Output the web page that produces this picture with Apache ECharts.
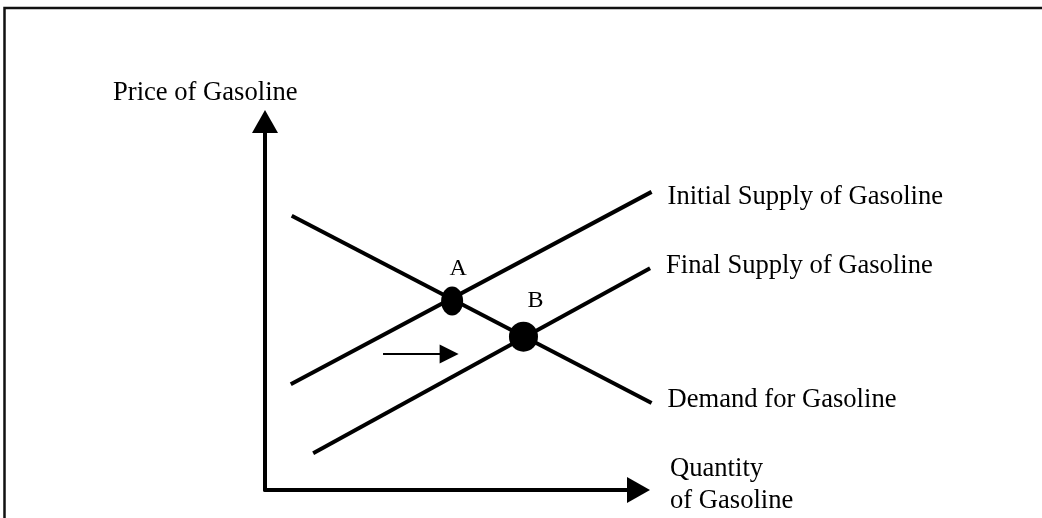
<!DOCTYPE html>
<html>
<head>
<meta charset="utf-8">
<script src="https://cdn.jsdelivr.net/npm/echarts@6/dist/echarts.min.js"></script>
<style>
  html, body { margin: 0; padding: 0; background: #ffffff; }
  #chart { width: 1042px; height: 518px; }
</style>
</head>
<body>
<div id="chart"></div>
<script>
// ---- data (abstract units) ----
const curveNames = ['Initial Supply of Gasoline', 'Final Supply of Gasoline', 'Demand for Gasoline'];
const initialSupply = [[6.9, 28.7], [103.5, 80.9]];
const finalSupply   = [[12.9, 10.0], [103.1, 60.2]];
const demand        = [[7.15, 74.4], [103.5, 23.6]];
const pointNames = ['A', 'B'];
const pointX = [50.1, 69.2];
const pointY = [51.3, 41.6];
const shiftArrow = [[31.6, 36.9], [49.3, 36.9]];
const xAxisTitle = ['Quantity', 'of Gasoline'];
const yAxisTitle = 'Price of Gasoline';

const FONT = '"Liberation Serif", "Times New Roman", serif';
const FS = 26.6;
const chart = echarts.init(document.getElementById('chart'), null, { renderer: 'canvas' });

// grid 0 carries the visible axes (0..100); grid 1 shares the same scale
// but extends a little to the right so the curves can run past the arrow tip.
const AX_W = 373.5, AX_H = 368.5, X_EXT = 110;

function curve(name, data, offY) {
  return {
    name: name,
    type: 'line',
    xAxisIndex: 1, yAxisIndex: 1,
    data: data,
    symbol: 'none',
    silent: true,
    lineStyle: { color: '#000', width: 4 },
    endLabel: {
      show: true,
      formatter: '{a}',
      distance: 16,
      offset: [0, offY],
      color: '#000',
      fontFamily: FONT,
      fontSize: FS
    },
    z: 3
  };
}

const hiddenAxis = {
  show: false,
  axisLine: { show: false }, axisTick: { show: false }, axisLabel: { show: false }, splitLine: { show: false }
};

const option = {
  animation: false,
  backgroundColor: '#ffffff',
  grid: [
    { left: 265, top: 121.5, width: AX_W, height: AX_H, containLabel: false },
    { left: 265, top: 121.5, width: AX_W * X_EXT / 100, height: AX_H, containLabel: false }
  ],
  xAxis: [
    {
      gridIndex: 0, type: 'value', min: 0, max: 100,
      axisLine: { show: true, symbol: ['none', 'triangle'], symbolSize: [26, 23], lineStyle: { color: '#000', width: 4 } },
      axisTick: { show: false }, axisLabel: { show: false }, splitLine: { show: false }
    },
    Object.assign({ gridIndex: 1, type: 'value', min: 0, max: X_EXT }, hiddenAxis)
  ],
  yAxis: [
    {
      gridIndex: 0, type: 'value', min: 0, max: 100,
      axisLine: { show: true, symbol: ['none', 'triangle'], symbolSize: [26, 23], lineStyle: { color: '#000', width: 4 } },
      axisTick: { show: false }, axisLabel: { show: false }, splitLine: { show: false }
    },
    Object.assign({ gridIndex: 1, type: 'value', min: 0, max: 100 }, hiddenAxis)
  ],
  series: [
    curve(curveNames[0], initialSupply, 5),
    curve(curveNames[1], finalSupply, -2),
    curve(curveNames[2], demand, -3.5),
    {
      name: 'points',
      type: 'scatter',
      xAxisIndex: 1, yAxisIndex: 1,
      silent: true,
      data: pointNames.map((n, i) => ({
        name: n,
        value: [pointX[i], pointY[i]],
        symbolSize: i === 0 ? [22, 29] : [29, 30],
        label: { offset: i === 0 ? [6, 0] : [12, -3] }
      })),
      itemStyle: { color: '#000', opacity: 1 },
      label: {
        show: true,
        position: 'top',
        distance: 6,
        formatter: '{b}',
        color: '#000',
        fontFamily: FONT,
        fontSize: 24
      },
      z: 5
    },
    {
      name: 'shift',
      type: 'lines',
      coordinateSystem: 'cartesian2d',
      xAxisIndex: 1, yAxisIndex: 1,
      silent: true,
      symbol: ['none', 'triangle'],
      symbolSize: 19,
      lineStyle: { color: '#000', width: 2, opacity: 1 },
      data: [{ coords: shiftArrow }],
      z: 4
    }
  ],
  graphic: [
    {
      type: 'polyline',
      shape: { points: [[4.5, 518], [4.5, 8], [1042, 8]] },
      style: { stroke: '#111', lineWidth: 2.5, fill: null },
      silent: true
    },
    {
      type: 'text', left: 113, top: 80, silent: true,
      style: { text: yAxisTitle, fill: '#000', font: FS + 'px ' + FONT }
    },
    {
      type: 'text', left: 670, top: 453, silent: true,
      style: { text: xAxisTitle.join('\n'), fill: '#000', font: FS + 'px ' + FONT, lineHeight: 32 }
    }
  ]
};
chart.setOption(option);
</script>
</body>
</html>
